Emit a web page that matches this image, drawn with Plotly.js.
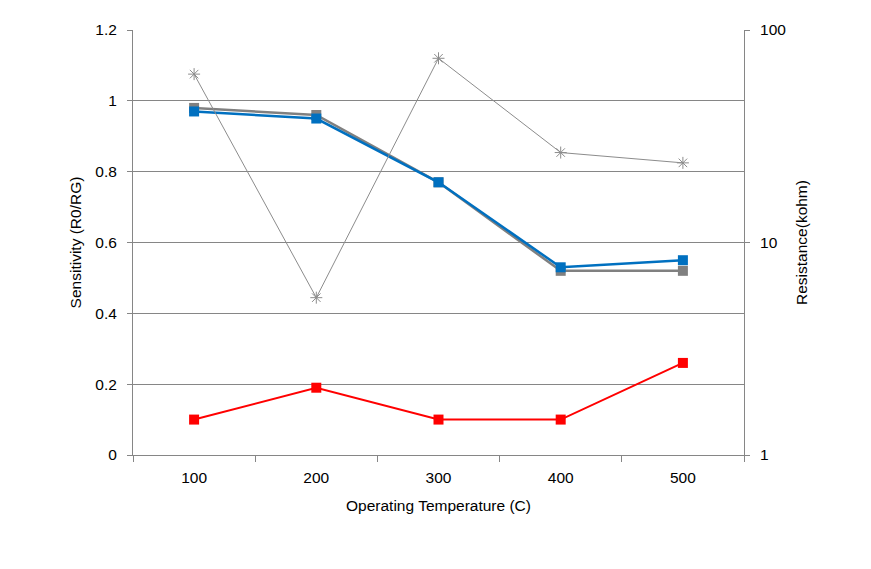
<!DOCTYPE html>
<html>
<head>
<meta charset="utf-8">
<script src="https://cdn.plot.ly/plotly-3.0.1.min.js"></script>
<style>html,body{margin:0;padding:0;background:#fff;}#chart{width:871px;height:569px;}</style>
</head>
<body>
<div id="chart"></div>
<script>
const categories = ["100", "200", "300", "400", "500"];
const sensitivityGray = [0.98, 0.96, 0.77, 0.52, 0.52];
const sensitivityBlue = [0.97, 0.95, 0.77, 0.53, 0.55];
const sensitivityRed = [0.10, 0.19, 0.10, 0.10, 0.26];
const resistance = [62, 5.5, 73.6, 26.5, 23.7];
const leftTicks = [0, 0.2, 0.4, 0.6, 0.8, 1, 1.2];
const leftTickText = ["0", "0.2", "0.4", "0.6", "0.8", "1", "1.2"];
const rightTicks = [1, 10, 100];
const rightTickText = ["1", "10", "100"];

const axisColor = '#868686';
const font = {family: 'Liberation Sans, Arial, sans-serif', size: 15.5, color: '#000'};

const traces = [
  {x: categories, y: resistance, yaxis: 'y2', type: 'scatter', mode: 'lines+markers',
   line: {color: '#8c8c8c', width: 1},
   marker: {symbol: 'asterisk-open', size: 10, color: '#8c8c8c', line: {color: '#7f7f7f', width: 1}}},
  {x: categories, y: sensitivityGray, type: 'scatter', mode: 'lines+markers',
   line: {color: '#808080', width: 2.5},
   marker: {symbol: 'square', size: 10, color: '#808080'}},
  {x: categories, y: sensitivityBlue, type: 'scatter', mode: 'lines+markers',
   line: {color: '#0070C0', width: 2.5},
   marker: {symbol: 'square', size: 10, color: '#0070C0'}},
  {x: categories, y: sensitivityRed, type: 'scatter', mode: 'lines+markers',
   line: {color: '#FF0000', width: 2},
   marker: {symbol: 'square', size: 10, color: '#FF0000'}}
];

const layout = {
  width: 871, height: 569,
  margin: {l: 133, r: 127, t: 30, b: 114},
  paper_bgcolor: '#fff', plot_bgcolor: '#fff',
  showlegend: false,
  font: font,
  xaxis: {
    type: 'category', range: [-0.5, 4.5], tickson: 'boundaries',
    showline: true, linecolor: axisColor, linewidth: 1,
    ticks: 'outside', ticklen: 6, tickcolor: axisColor,
    showgrid: false, zeroline: false, tickfont: font, ticklabelstandoff: 8,
    title: {text: 'Operating Temperature (C)', font: font, standoff: 15}
  },
  yaxis: {
    range: [0, 1.2], tickvals: leftTicks, ticktext: leftTickText,
    showline: true, linecolor: axisColor, linewidth: 1,
    ticks: 'outside', ticklen: 5, tickcolor: axisColor,
    showgrid: true, gridcolor: axisColor, gridwidth: 1, zeroline: false,
    tickfont: font, ticklabelstandoff: 7,
    title: {text: 'Sensitivity (R0/RG)', font: font, standoff: 9}
  },
  yaxis2: {
    type: 'log', range: [0, 2], overlaying: 'y', side: 'right',
    tickvals: rightTicks, ticktext: rightTickText,
    showline: true, linecolor: axisColor, linewidth: 1,
    ticks: 'outside', ticklen: 5, tickcolor: axisColor,
    showgrid: false, zeroline: false, tickfont: font, ticklabelstandoff: 7,
    title: {text: 'Resistance(kohm)', font: font, standoff: 10}
  }
};

Plotly.newPlot('chart', traces, layout, {displayModeBar: false, staticPlot: true});
</script>
</body>
</html>
